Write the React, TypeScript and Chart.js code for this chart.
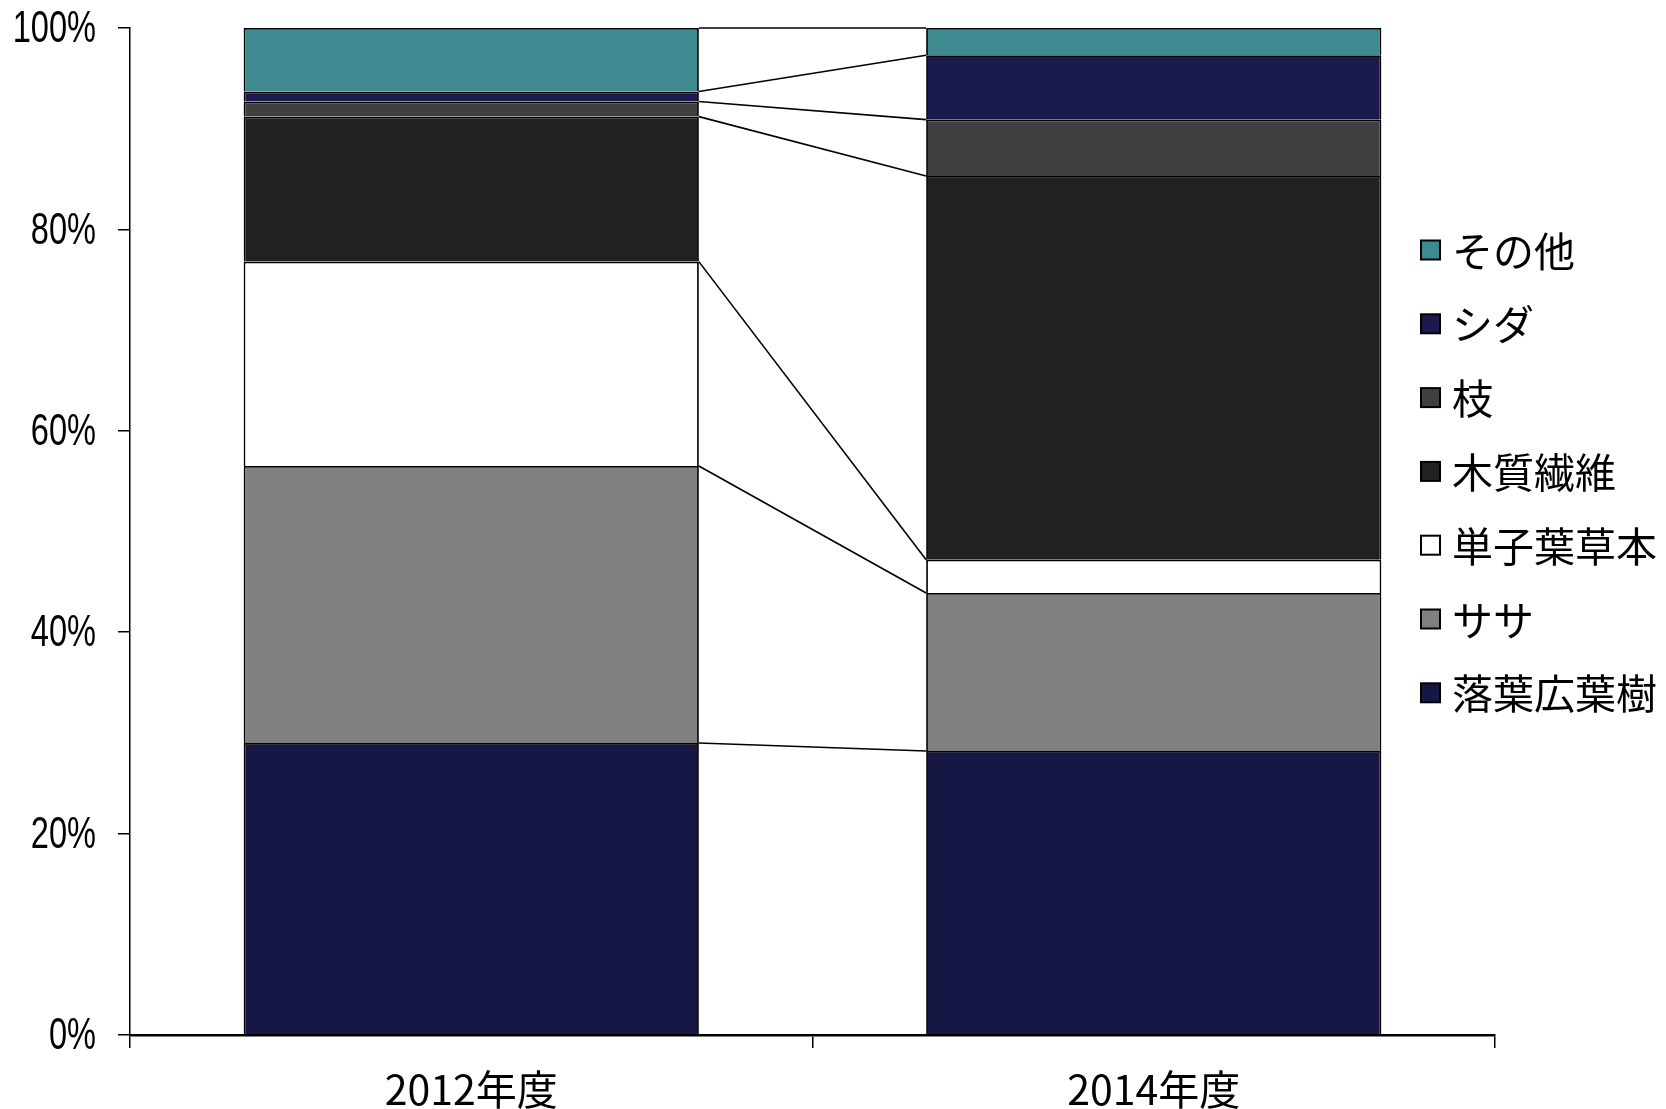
import React, { useEffect, useRef } from "react";
import { Chart, registerables } from "chart.js";

Chart.register(...registerables);

// Survey years (categories)
const years = ["2012年度", "2014年度"];

// Composition shares (%) per year, stacked bottom to top
const deciduous = [29.0, 28.2]; // 落葉広葉樹
const sasa = [27.5, 15.7]; // ササ
const monocotHerbs = [20.3, 3.3]; // 単子葉草本
const woodyFiber = [14.4, 38.1]; // 木質繊維
const twigs = [1.5, 5.6]; // 枝
const ferns = [1.0, 6.4]; // シダ
const others = [6.3, 2.7]; // その他

const seriesNames = ["落葉広葉樹", "ササ", "単子葉草本", "木質繊維", "枝", "シダ", "その他"];
const seriesValues = [deciduous, sasa, monocotHerbs, woodyFiber, twigs, ferns, others];
const seriesColors = ["#171745", "#808080", "#FFFFFF", "#212121", "#404040", "#1B1A4E", "#3E8A90"];

// Percent axis ticks
const yTicks = [0, 20, 40, 60, 80, 100];

const W = 1666;
const H = 1109;

// Lines joining matching segment boundaries of neighbouring bars
const connectorPlugin = {
  id: "segmentConnectors",
  afterDatasetsDraw(chart: any) {
    const ctx = chart.ctx;
    ctx.save();
    ctx.strokeStyle = "#000";
    ctx.lineWidth = 1.6;
    chart.data.datasets.forEach((_: any, i: number) => {
      const meta = chart.getDatasetMeta(i);
      const els = meta.data;
      for (let k = 0; k < els.length - 1; k++) {
        const a = els[k];
        const b = els[k + 1];
        ctx.beginPath();
        ctx.moveTo(a.x + a.width / 2, a.y);
        ctx.lineTo(b.x - b.width / 2, b.y);
        ctx.stroke();
      }
    });
    ctx.restore();
  },
};

// Axis labels in a narrow face, plus the legend column at the right
const labelsPlugin = {
  id: "axisAndLegendLabels",
  afterDraw(chart: any) {
    const ctx = chart.ctx;
    const ys = chart.scales.y;
    const xs = chart.scales.x;
    ctx.save();
    ctx.fillStyle = "#000";

    // y tick labels
    ctx.font = '44px "Liberation Sans", Arial, sans-serif';
    ctx.textAlign = "right";
    ctx.textBaseline = "middle";
    ys.ticks.forEach((t: any) => {
      const y = ys.getPixelForValue(t.value);
      ctx.save();
      ctx.translate(96, y);
      ctx.scale(0.74, 1);
      ctx.fillText(`${t.value}%`, 0, 2);
      ctx.restore();
    });

    // x category labels
    ctx.font = '41px "Noto Sans CJK JP", sans-serif';
    ctx.textAlign = "center";
    years.forEach((label, i) => {
      const x = xs.getPixelForValue(i);
      ctx.fillText(label, x, 1089);
    });

    // legend, top entry is the top of the stack
    ctx.font = '41px "Noto Sans CJK JP", sans-serif';
    ctx.textAlign = "left";
    const order = chart.data.datasets.map((_: any, i: number) => i).reverse();
    order.forEach((di: number, k: number) => {
      const ds = chart.data.datasets[di];
      const cy = 250 + k * 73.8;
      ctx.fillStyle = ds.backgroundColor;
      ctx.fillRect(1421, cy - 9.5, 19, 19);
      ctx.strokeStyle = "#000";
      ctx.lineWidth = 2;
      ctx.strokeRect(1421, cy - 9.5, 19, 19);
      ctx.fillStyle = "#000";
      ctx.fillText(ds.label, 1452, cy + 1);
    });
    ctx.restore();
  },
};

export default function App() {
  const canvasRef = useRef<HTMLCanvasElement | null>(null);

  useEffect(() => {
    const canvas = canvasRef.current;
    if (!canvas) return;
    const chart = new Chart(canvas, {
      type: "bar",
      data: {
        labels: years,
        datasets: seriesNames.map((name, i) => ({
          label: name,
          data: seriesValues[i],
          backgroundColor: seriesColors[i],
          borderColor: "#000",
          borderWidth: 1.8,
          barPercentage: 1,
          categoryPercentage: 0.667,
        })),
      },
      options: {
        responsive: false,
        animation: false,
        devicePixelRatio: 1,
        layout: { padding: { top: 28, right: 171, left: 0, bottom: 0 } },
        plugins: {
          legend: { display: false },
          tooltip: { enabled: false },
          title: { display: false },
        },
        scales: {
          x: {
            stacked: true,
            grid: {
              display: true,
              offset: true,
              drawOnChartArea: false,
              drawTicks: true,
              tickLength: 13,
              color: "#000",
              lineWidth: 1.5,
            },
            border: { display: true, color: "#000", width: 2.5 },
            ticks: { display: false },
            afterFit(scale: any) {
              scale.height = H - 1035;
            },
          },
          y: {
            stacked: true,
            min: 0,
            max: 100,
            afterBuildTicks(scale: any) {
              scale.ticks = yTicks.map((v) => ({ value: v }));
            },
            grid: {
              display: true,
              drawOnChartArea: false,
              drawTicks: true,
              tickLength: 12,
              color: "#000",
              lineWidth: 1.5,
            },
            border: { display: true, color: "#000", width: 1.5 },
            ticks: { display: false },
            afterFit(scale: any) {
              scale.width = 130;
            },
          },
        },
      },
      plugins: [connectorPlugin, labelsPlugin],
    });
    return () => chart.destroy();
  }, []);

  return (
    <div style={{ position: "fixed", left: 0, top: 0, width: W, height: H, background: "#fff" }}>
      <canvas ref={canvasRef} width={W} height={H} style={{ display: "block", width: W, height: H }} />
    </div>
  );
}
